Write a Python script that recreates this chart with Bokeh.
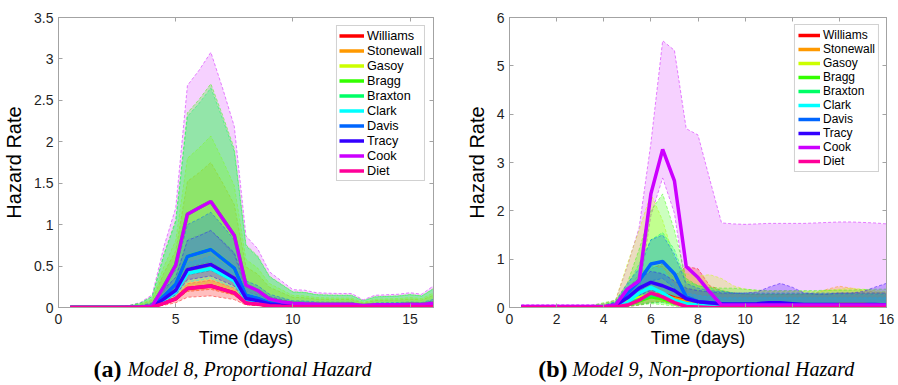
from bokeh.plotting import figure
from bokeh.layouts import column, row
from bokeh.models import Range1d, LinearAxis, FixedTicker, Legend, LegendItem
from bokeh.embed import file_html
from bokeh.resources import INLINE
from bokeh.core.properties import value

# ---------------- data ----------------
TIME = [0.5, 1.0, 1.5, 2.0, 2.5, 3.0, 3.5, 4.0, 4.5, 5.0, 5.5, 6.0, 6.5, 7.0, 7.5, 8.0,
        8.5, 9.0, 9.5, 10.0, 10.5, 11.0, 11.5, 12.0, 12.5, 13.0, 13.5, 14.0, 14.5, 15.0, 15.5, 16.0]

SERIES = ["Williams", "Stonewall", "Gasoy", "Bragg", "Braxton", "Clark", "Davis", "Tracy", "Cook", "Diet"]
COLORS = ["#ff0000", "#ff9900", "#ccff00", "#33ff00", "#00ff66", "#00ffff", "#0066ff", "#3300ff", "#cc00ff", "#ff0099"]
BAND_ALPHAS = [0.25, 0.25, 0.25, 0.25, 0.25, 0.25, 0.25, 0.25, 0.18, 0.25]
# stacking order of the shaded bands (bottom first)
FILL_ORDER = ["Cook", "Diet", "Williams", "Stonewall", "Gasoy", "Bragg", "Braxton", "Clark", "Tracy", "Davis"]

# (a) Model 8, proportional hazard: a common baseline shape scaled per group
L_MEAN_SHAPE = [0.0, 0.0, 0.0, 0.0, 0.0, 0.002, 0.004, 0.015, 0.20, 0.40, 0.88, 0.94, 1.00, 0.84, 0.68, 0.21,
                0.16, 0.08, 0.055, 0.04, 0.035, 0.032, 0.03, 0.03, 0.03, 0.018, 0.025, 0.026, 0.027, 0.03, 0.028, 0.04]
L_UPPER_SHAPE = [0.0, 0.0, 0.0, 0.002, 0.004, 0.008, 0.02, 0.05, 0.24, 0.39, 0.87, 0.93, 1.00, 0.86, 0.71, 0.28,
                 0.23, 0.14, 0.105, 0.07, 0.068, 0.058, 0.056, 0.055, 0.055, 0.03, 0.048, 0.05, 0.052, 0.058, 0.052, 0.085]
L_PEAK_MEAN = [0.26, 0.52, 0.70, 1.28, 0.70, 0.47, 0.70, 0.52, 1.28, 0.26]
L_PEAK_LOW = [0.14, 0.22, 0.30, 0.55, 0.45, 0.35, 0.45, 0.38, 0.93, 0.22]
L_PEAK_HIGH = [0.45, 1.75, 2.07, 2.70, 2.65, 0.62, 1.15, 0.93, 3.08, 0.33]

# (b) Model 9, non-proportional hazard: each group read separately
R_WILLIAMS_MEAN = [0.01, 0.01, 0.01, 0.01, 0.01, 0.01, 0.01, 0.01, 0.02, 0.08, 0.15, 0.25, 0.28, 0.20, 0.14, 0.10, 0.06, 0.04, 0.03, 0.03, 0.03, 0.03, 0.03, 0.03, 0.03, 0.03, 0.03, 0.03, 0.03, 0.03, 0.03, 0.03]
R_WILLIAMS_LOW = [0.0, 0.0, 0.0, 0.0, 0.0, 0.0, 0.0, 0.0, 0.0, 0.02, 0.05, 0.10, 0.12, 0.08, 0.05, 0.03, 0.02, 0.01, 0.01, 0.01, 0.01, 0.01, 0.01, 0.01, 0.01, 0.01, 0.01, 0.01, 0.01, 0.01, 0.01, 0.01]
R_WILLIAMS_HIGH = [0.03, 0.03, 0.03, 0.03, 0.03, 0.03, 0.03, 0.04, 0.08, 0.30, 0.55, 0.80, 0.90, 0.65, 0.85, 0.80, 0.45, 0.35, 0.30, 0.28, 0.28, 0.28, 0.28, 0.28, 0.28, 0.28, 0.28, 0.30, 0.30, 0.30, 0.30, 0.30]

R_STONEWALL_MEAN = [0.01, 0.01, 0.01, 0.01, 0.01, 0.01, 0.01, 0.01, 0.03, 0.10, 0.18, 0.26, 0.26, 0.18, 0.12, 0.08, 0.06, 0.05, 0.05, 0.05, 0.05, 0.05, 0.05, 0.05, 0.05, 0.05, 0.05, 0.06, 0.06, 0.06, 0.05, 0.05]
R_STONEWALL_LOW = [0.0, 0.0, 0.0, 0.0, 0.0, 0.0, 0.0, 0.0, 0.01, 0.03, 0.08, 0.12, 0.12, 0.08, 0.04, 0.03, 0.02, 0.02, 0.02, 0.02, 0.02, 0.02, 0.02, 0.02, 0.02, 0.02, 0.02, 0.02, 0.02, 0.02, 0.02, 0.02]
R_STONEWALL_HIGH = [0.03, 0.03, 0.03, 0.03, 0.03, 0.03, 0.03, 0.05, 0.10, 0.35, 0.70, 0.85, 0.85, 0.60, 0.40, 0.35, 0.30, 0.28, 0.27, 0.27, 0.27, 0.27, 0.27, 0.27, 0.28, 0.30, 0.38, 0.44, 0.40, 0.35, 0.32, 0.30]

R_GASOY_MEAN = [0.01, 0.01, 0.01, 0.01, 0.01, 0.01, 0.01, 0.02, 0.04, 0.12, 0.20, 0.25, 0.18, 0.10, 0.06, 0.05, 0.05, 0.04, 0.04, 0.04, 0.04, 0.04, 0.04, 0.04, 0.04, 0.04, 0.04, 0.04, 0.05, 0.05, 0.04, 0.04]
R_GASOY_LOW = [0.0, 0.0, 0.0, 0.0, 0.0, 0.0, 0.0, 0.0, 0.01, 0.05, 0.15, 0.20, 0.10, 0.05, 0.03, 0.03, 0.03, 0.02, 0.02, 0.02, 0.02, 0.02, 0.02, 0.02, 0.02, 0.02, 0.02, 0.02, 0.02, 0.02, 0.02, 0.02]
R_GASOY_HIGH = [0.04, 0.04, 0.04, 0.04, 0.04, 0.04, 0.04, 0.08, 0.15, 0.90, 1.60, 2.35, 1.80, 1.00, 0.70, 0.65, 0.68, 0.60, 0.45, 0.38, 0.35, 0.33, 0.33, 0.33, 0.33, 0.33, 0.35, 0.38, 0.40, 0.38, 0.35, 0.33]

R_BRAGG_MEAN = [0.01, 0.01, 0.01, 0.01, 0.01, 0.01, 0.01, 0.01, 0.02, 0.06, 0.14, 0.22, 0.18, 0.10, 0.05, 0.03, 0.02, 0.01, 0.01, 0.01, 0.01, 0.01, 0.01, 0.01, 0.01, 0.01, 0.01, 0.01, 0.01, 0.01, 0.01, 0.01]
R_BRAGG_LOW = [0.0, 0.0, 0.0, 0.0, 0.0, 0.0, 0.0, 0.0, 0.0, 0.02, 0.05, 0.08, 0.06, 0.03, 0.01, 0.01, 0.0, 0.0, 0.0, 0.0, 0.0, 0.0, 0.0, 0.0, 0.0, 0.0, 0.0, 0.0, 0.0, 0.0, 0.0, 0.0]
R_BRAGG_HIGH = [0.04, 0.04, 0.04, 0.04, 0.04, 0.04, 0.04, 0.10, 0.15, 0.50, 1.20, 2.00, 2.35, 1.60, 0.60, 0.45, 0.42, 0.40, 0.40, 0.38, 0.36, 0.35, 0.35, 0.35, 0.35, 0.35, 0.36, 0.36, 0.36, 0.37, 0.38, 0.38]

R_BRAXTON_MEAN = [0.01, 0.01, 0.01, 0.01, 0.01, 0.01, 0.01, 0.01, 0.03, 0.08, 0.16, 0.26, 0.24, 0.14, 0.07, 0.05, 0.04, 0.04, 0.04, 0.04, 0.04, 0.04, 0.04, 0.04, 0.04, 0.04, 0.04, 0.04, 0.04, 0.04, 0.04, 0.04]
R_BRAXTON_LOW = [0.0, 0.0, 0.0, 0.0, 0.0, 0.0, 0.0, 0.0, 0.01, 0.03, 0.06, 0.10, 0.10, 0.06, 0.03, 0.02, 0.02, 0.02, 0.02, 0.02, 0.02, 0.02, 0.02, 0.02, 0.02, 0.02, 0.02, 0.02, 0.02, 0.02, 0.02, 0.02]
R_BRAXTON_HIGH = [0.04, 0.04, 0.04, 0.04, 0.04, 0.04, 0.04, 0.06, 0.12, 0.45, 0.90, 1.40, 1.55, 1.20, 0.55, 0.45, 0.40, 0.35, 0.30, 0.28, 0.27, 0.27, 0.27, 0.27, 0.27, 0.27, 0.27, 0.27, 0.27, 0.27, 0.27, 0.27]

R_CLARK_MEAN = [0.0, 0.0, 0.0, 0.0, 0.0, 0.0, 0.0, 0.0, 0.02, 0.10, 0.30, 0.42, 0.30, 0.15, 0.08, 0.05, 0.03, 0.02, 0.02, 0.02, 0.02, 0.02, 0.02, 0.02, 0.02, 0.02, 0.02, 0.02, 0.02, 0.02, 0.02, 0.02]
R_CLARK_LOW = [0.0, 0.0, 0.0, 0.0, 0.0, 0.0, 0.0, 0.0, 0.01, 0.05, 0.18, 0.28, 0.18, 0.08, 0.04, 0.02, 0.01, 0.01, 0.01, 0.01, 0.01, 0.01, 0.01, 0.01, 0.01, 0.01, 0.01, 0.01, 0.01, 0.01, 0.01, 0.01]
R_CLARK_HIGH = [0.02, 0.02, 0.02, 0.02, 0.02, 0.02, 0.02, 0.03, 0.08, 0.30, 0.60, 0.85, 0.80, 0.45, 0.30, 0.25, 0.22, 0.20, 0.20, 0.20, 0.20, 0.20, 0.20, 0.20, 0.20, 0.20, 0.20, 0.20, 0.20, 0.20, 0.20, 0.20]

R_DAVIS_MEAN = [0.01, 0.01, 0.01, 0.01, 0.01, 0.01, 0.01, 0.01, 0.04, 0.30, 0.55, 0.90, 0.95, 0.70, 0.22, 0.12, 0.10, 0.07, 0.05, 0.05, 0.05, 0.05, 0.05, 0.05, 0.05, 0.05, 0.05, 0.05, 0.05, 0.05, 0.05, 0.05]
R_DAVIS_LOW = [0.0, 0.0, 0.0, 0.0, 0.0, 0.0, 0.0, 0.0, 0.02, 0.15, 0.30, 0.55, 0.60, 0.40, 0.10, 0.05, 0.03, 0.02, 0.02, 0.02, 0.02, 0.02, 0.02, 0.02, 0.02, 0.02, 0.02, 0.02, 0.02, 0.02, 0.02, 0.02]
R_DAVIS_HIGH = [0.03, 0.03, 0.03, 0.03, 0.03, 0.03, 0.03, 0.04, 0.12, 0.50, 0.80, 1.40, 1.50, 1.10, 0.50, 0.40, 0.35, 0.33, 0.30, 0.30, 0.30, 0.30, 0.30, 0.30, 0.30, 0.30, 0.30, 0.30, 0.30, 0.30, 0.30, 0.30]

R_TRACY_MEAN = [0.01, 0.01, 0.01, 0.01, 0.01, 0.01, 0.01, 0.01, 0.04, 0.20, 0.40, 0.52, 0.45, 0.35, 0.18, 0.12, 0.10, 0.08, 0.07, 0.07, 0.08, 0.10, 0.10, 0.08, 0.06, 0.06, 0.06, 0.06, 0.06, 0.06, 0.06, 0.05]
R_TRACY_LOW = [0.0, 0.0, 0.0, 0.0, 0.0, 0.0, 0.0, 0.0, 0.02, 0.08, 0.25, 0.35, 0.30, 0.20, 0.08, 0.05, 0.03, 0.03, 0.02, 0.02, 0.02, 0.03, 0.03, 0.02, 0.02, 0.02, 0.02, 0.02, 0.02, 0.02, 0.02, 0.02]
R_TRACY_HIGH = [0.03, 0.03, 0.03, 0.03, 0.03, 0.03, 0.03, 0.04, 0.10, 0.40, 0.60, 0.75, 0.70, 0.55, 0.40, 0.35, 0.33, 0.30, 0.30, 0.30, 0.32, 0.42, 0.50, 0.42, 0.30, 0.28, 0.28, 0.30, 0.30, 0.33, 0.42, 0.50]

R_COOK_MEAN = [0.02, 0.02, 0.02, 0.02, 0.02, 0.02, 0.02, 0.02, 0.05, 0.38, 0.55, 2.35, 3.27, 2.62, 0.85, 0.62, 0.32, 0.05, 0.05, 0.05, 0.05, 0.05, 0.05, 0.05, 0.05, 0.05, 0.05, 0.05, 0.05, 0.05, 0.05, 0.05]
R_COOK_LOW = [0.0, 0.0, 0.0, 0.0, 0.0, 0.0, 0.0, 0.0, 0.01, 0.05, 0.30, 1.90, 2.68, 1.95, 0.30, 0.15, 0.08, 0.01, 0.01, 0.01, 0.01, 0.01, 0.01, 0.01, 0.01, 0.01, 0.01, 0.01, 0.01, 0.01, 0.01, 0.01]
R_COOK_HIGH = [0.06, 0.06, 0.06, 0.06, 0.06, 0.06, 0.06, 0.08, 0.15, 0.85, 1.65, 3.40, 5.52, 5.32, 3.70, 3.57, 2.65, 1.75, 1.73, 1.72, 1.73, 1.74, 1.74, 1.74, 1.74, 1.75, 1.76, 1.77, 1.77, 1.76, 1.75, 1.73]

R_DIET_MEAN = [0.0, 0.0, 0.0, 0.0, 0.0, 0.0, 0.0, 0.0, 0.01, 0.05, 0.15, 0.30, 0.22, 0.10, 0.02, 0.01, 0.0, 0.0, 0.0, 0.0, 0.0, 0.0, 0.0, 0.0, 0.0, 0.0, 0.0, 0.0, 0.0, 0.0, 0.0, 0.0]
R_DIET_LOW = [0.0, 0.0, 0.0, 0.0, 0.0, 0.0, 0.0, 0.0, 0.0, 0.02, 0.10, 0.22, 0.15, 0.05, 0.0, 0.0, 0.0, 0.0, 0.0, 0.0, 0.0, 0.0, 0.0, 0.0, 0.0, 0.0, 0.0, 0.0, 0.0, 0.0, 0.0, 0.0]
R_DIET_HIGH = [0.01, 0.01, 0.01, 0.01, 0.01, 0.01, 0.01, 0.01, 0.03, 0.10, 0.25, 0.38, 0.32, 0.18, 0.06, 0.03, 0.02, 0.02, 0.02, 0.02, 0.02, 0.02, 0.02, 0.02, 0.02, 0.02, 0.02, 0.02, 0.02, 0.02, 0.02, 0.02]

L_XTICKS = [0, 5, 10, 15]
L_XTICK_LABELS = ["0", "5", "10", "15"]
L_YTICKS = [0, 0.5, 1, 1.5, 2, 2.5, 3, 3.5]
L_YTICK_LABELS = ["0", "0.5", "1", "1.5", "2", "2.5", "3", "3.5"]
R_XTICKS = [0, 2, 4, 6, 8, 10, 12, 14, 16]
R_XTICK_LABELS = ["0", "2", "4", "6", "8", "10", "12", "14", "16"]
R_YTICKS = [0, 1, 2, 3, 4, 5, 6]
R_YTICK_LABELS = ["0", "1", "2", "3", "4", "5", "6"]

X_LABEL = "Time (days)"
Y_LABEL = "Hazard Rate"
CAPTION_A = ("(a)", "Model 8, Proportional Hazard")
CAPTION_B = ("(b)", "Model 9, Non-proportional Hazard")

# ---------------- assemble series ----------------
L_MEANS = [[m * s for s in L_MEAN_SHAPE] for m in L_PEAK_MEAN]
L_LOWS = [[m * s for s in L_MEAN_SHAPE] for m in L_PEAK_LOW]
L_HIGHS = [[m * s for s in L_UPPER_SHAPE] for m in L_PEAK_HIGH]

R_MEANS = [R_WILLIAMS_MEAN, R_STONEWALL_MEAN, R_GASOY_MEAN, R_BRAGG_MEAN, R_BRAXTON_MEAN,
           R_CLARK_MEAN, R_DAVIS_MEAN, R_TRACY_MEAN, R_COOK_MEAN, R_DIET_MEAN]
R_LOWS = [R_WILLIAMS_LOW, R_STONEWALL_LOW, R_GASOY_LOW, R_BRAGG_LOW, R_BRAXTON_LOW,
          R_CLARK_LOW, R_DAVIS_LOW, R_TRACY_LOW, R_COOK_LOW, R_DIET_LOW]
R_HIGHS = [R_WILLIAMS_HIGH, R_STONEWALL_HIGH, R_GASOY_HIGH, R_BRAGG_HIGH, R_BRAXTON_HIGH,
           R_CLARK_HIGH, R_DAVIS_HIGH, R_TRACY_HIGH, R_COOK_HIGH, R_DIET_HIGH]

for arr in R_MEANS + R_LOWS + R_HIGHS + [L_MEAN_SHAPE, L_UPPER_SHAPE]:
    assert len(arr) == len(TIME), len(arr)

AXIS_COLOR = "#a3a3a3"
TEXT_COLOR = "#1f1f1f"
SANS = "Liberation Sans"
SERIF = "Liberation Serif"


def style_axis(ax, ticks, labels, label_standoff, axis_label_standoff, axis_label_size):
    ax.ticker = FixedTicker(ticks=ticks)
    ax.major_label_overrides = {t: l for t, l in zip(ticks, labels)}
    ax.axis_line_color = AXIS_COLOR
    ax.major_tick_line_color = AXIS_COLOR
    ax.major_tick_in = 4
    ax.major_tick_out = 0
    ax.minor_tick_line_color = None
    ax.major_label_text_font = SANS
    ax.major_label_text_font_size = "14px"
    ax.major_label_text_color = TEXT_COLOR
    ax.major_label_standoff = label_standoff
    ax.axis_label_text_font = SANS
    ax.axis_label_text_font_size = axis_label_size
    ax.axis_label_text_font_style = "normal"
    ax.axis_label_text_color = "#000000"
    ax.axis_label_standoff = axis_label_standoff


def mirror_axis(p, ticks, side):
    ax = LinearAxis(ticker=FixedTicker(ticks=ticks))
    ax.axis_line_color = AXIS_COLOR
    ax.major_tick_line_color = AXIS_COLOR
    ax.major_tick_in = 4
    ax.major_tick_out = 0
    ax.minor_tick_line_color = None
    ax.major_label_text_color = None
    ax.major_label_text_font_size = "0px"
    ax.major_label_standoff = 0
    p.add_layout(ax, side)


def make_panel(width, height, borders, y_max, xt, xl, yt, yl, lows, means, highs,
               legend_font, legend_item_h, legend_glyph_w, legend_pad, legend_margin):
    bl, br, bt, bb = borders
    p = figure(width=width, height=height, x_range=Range1d(0, 16), y_range=Range1d(0, y_max),
               output_backend="svg", toolbar_location=None,
               min_border_left=bl, min_border_right=br, min_border_top=bt, min_border_bottom=bb)
    p.xgrid.visible = False
    p.ygrid.visible = False
    p.outline_line_color = AXIS_COLOR
    p.background_fill_color = "white"
    p.border_fill_color = "white"

    style_axis(p.xaxis[0], xt, xl, 6, 1, "18px")
    style_axis(p.yaxis[0], yt, yl, 5, 6, "20px")
    p.xaxis.axis_label = X_LABEL
    p.yaxis.axis_label = Y_LABEL
    mirror_axis(p, xt, "above")
    mirror_axis(p, yt, "right")

    for name in FILL_ORDER:
        i = SERIES.index(name)
        lo, hi, c = lows[i], highs[i], COLORS[i]
        p.varea(x=TIME, y1=lo, y2=hi, fill_color=c, fill_alpha=BAND_ALPHAS[i])
        p.line(TIME, lo, line_color=c, line_width=0.8, line_alpha=0.6, line_dash="3 2")
        p.line(TIME, hi, line_color=c, line_width=0.8, line_alpha=0.6, line_dash="3 2")

    items = []
    for m, c, name in zip(means, COLORS, SERIES):
        r = p.line(TIME, m, line_color=c, line_width=3.5)
        items.append(LegendItem(label=name, renderers=[r]))

    legend = Legend(items=items, location="top_right")
    legend.label_text_font = SANS
    legend.label_text_font_size = legend_font
    legend.label_text_color = "#000000"
    legend.label_height = legend_item_h
    legend.glyph_height = legend_item_h
    legend.glyph_width = legend_glyph_w
    legend.label_standoff = 3
    legend.padding = legend_pad
    legend.spacing = 0
    legend.margin = legend_margin
    legend.border_line_color = AXIS_COLOR
    legend.border_line_width = 1
    legend.background_fill_color = "white"
    legend.background_fill_alpha = 1.0
    p.add_layout(legend)
    return p


def make_caption(width, tag, text, x_tag_right, x_text_left):
    c = figure(width=width, height=31, x_range=Range1d(0, width), y_range=Range1d(0, 31),
               output_backend="svg", toolbar_location=None, min_border=0,
               x_axis_type=None, y_axis_type=None)
    c.grid.visible = False
    c.outline_line_color = None
    c.text(x=[x_tag_right], y=[17], text=[tag], text_font=value(SERIF), text_font_style="bold",
           text_font_size="24px", text_align="right", text_baseline="middle", text_color="#000000")
    c.text(x=[x_text_left], y=[17], text=[text], text_font=value(SERIF), text_font_style="italic",
           text_font_size="20px", text_align="left", text_baseline="middle", text_color="#000000")
    return c


p1 = make_panel(450, 354, (56, 17, 17, 47), 3.5, L_XTICKS, L_XTICK_LABELS, L_YTICKS, L_YTICK_LABELS,
                L_LOWS, L_MEANS, L_HIGHS, "12.7px", 15, 25, 2, 8)
p2 = make_panel(448, 354, (59, 12, 10, 46), 6, R_XTICKS, R_XTICK_LABELS, R_YTICKS, R_YTICK_LABELS,
                R_LOWS, R_MEANS, R_HIGHS, "12px", 14, 22, 3, 7)

c1 = make_caption(450, CAPTION_A[0], CAPTION_A[1], 121, 127)
c2 = make_caption(448, CAPTION_B[0], CAPTION_B[1], 117, 122)

layout = column(row(p1, p2, spacing=0), row(c1, c2, spacing=0), spacing=0)

open("out.html", "w").write(file_html(layout, INLINE))
